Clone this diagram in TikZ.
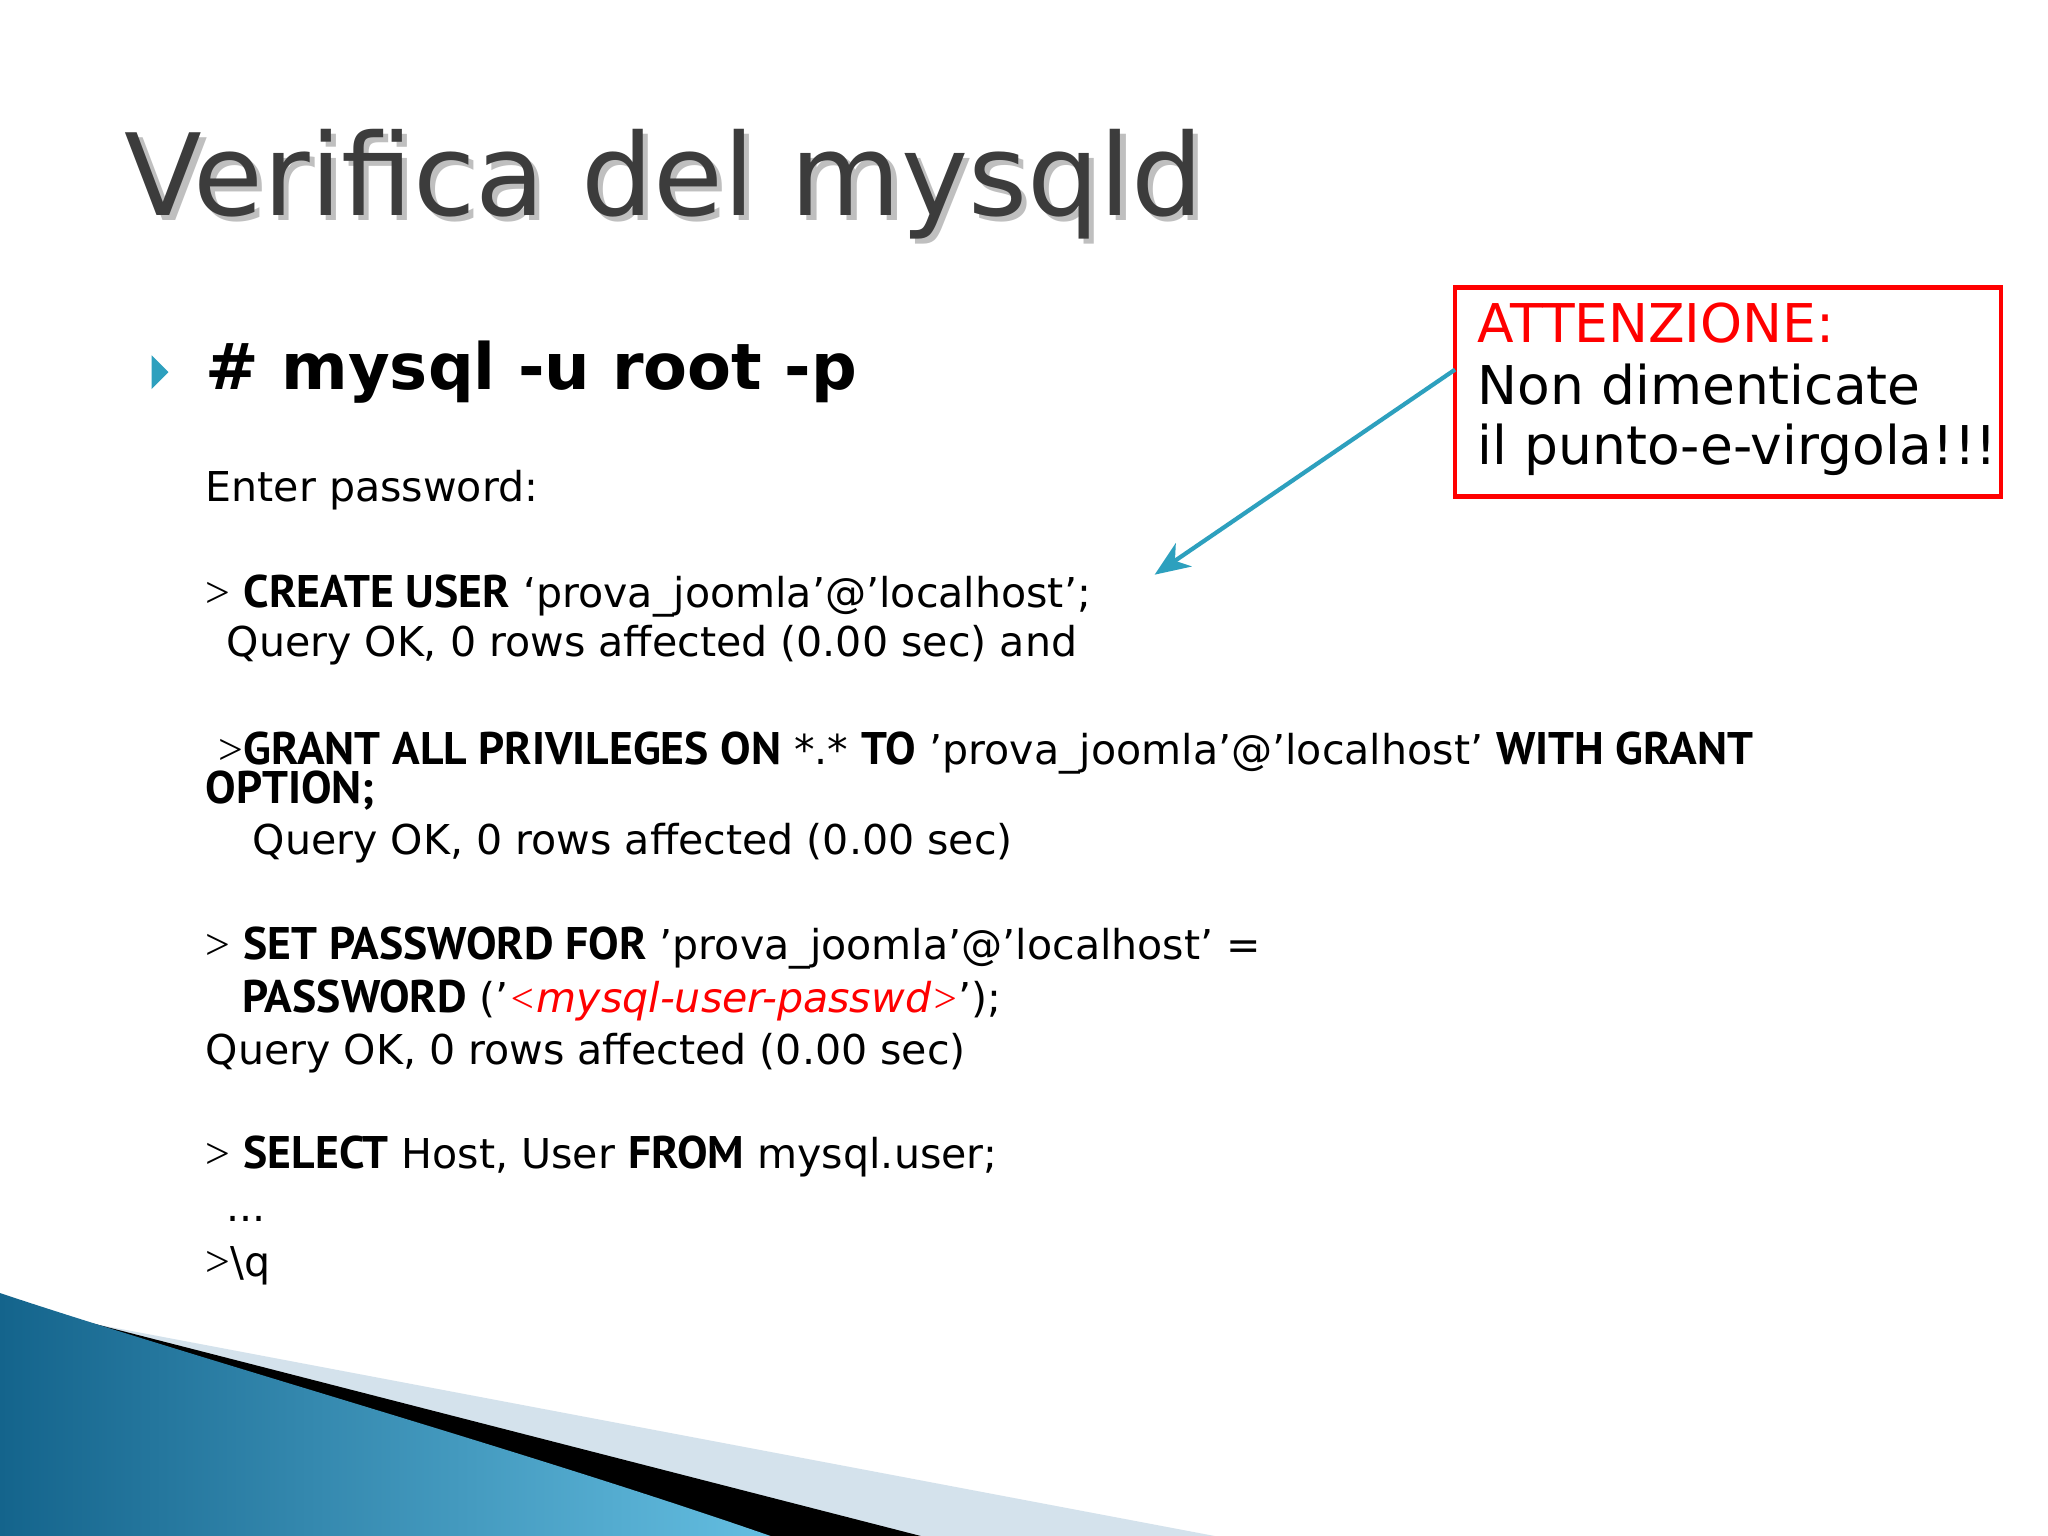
\documentclass[tikz,border=0pt]{standalone}
\usepackage{fontspec}
\usetikzlibrary{arrows.meta}
\setmainfont{DejaVu Sans}
\newfontfamily\bfam{PT Sans}
\newfontfamily\serf{Liberation Serif}
\definecolor{teal1}{RGB}{45,160,190}
\definecolor{light1}{RGB}{212,226,236}
\definecolor{dblue}{RGB}{20,100,140}
\definecolor{lblue}{RGB}{100,190,225}
\definecolor{ttl}{RGB}{60,60,60}
\begin{document}
\begin{tikzpicture}[x=0.013061cm,y=-0.013061cm,
  txt/.style={anchor=base west,inner sep=0pt,font=\fontsize{11.7}{13}\selectfont},
  rtxt/.style={anchor=base west,inner sep=0pt,font=\fontsize{15.2}{18}\selectfont}]
\newcommand{\B}[1]{{\bfam\bfseries\fontsize{13}{13}\selectfont #1}}
\newcommand{\G}{{\serf\fontsize{12.5}{13}\selectfont >}}
\newcommand{\sq}{\char39\relax}
\useasboundingbox[fill=white] (0,0) rectangle (1568,1176);
% bottom decoration
\fill[light1] (0,1000) -- (930,1176) -- (0,1176) -- cycle;
\fill[black] (0,995) -- (705,1176) -- (0,1176) -- cycle;
\shade[left color=dblue,right color=lblue] (0,990) .. controls (150,1040) and (400,1110) .. (590,1176) -- (0,1176) -- cycle;
% title
\node[anchor=base west,inner sep=0pt,text=black!25,font=\fontsize{32.3}{40}\selectfont] (tshadow) at (99,169) {Verifica del mysqld};
\node[anchor=base west,inner sep=0pt,text=ttl,font=\fontsize{32.3}{40}\selectfont] (title) at (95,165) {Verifica del mysqld};
% bullet
\fill[teal1] (116,272) -- (129,285) -- (116,298) -- cycle;
\node[anchor=base west,inner sep=0pt,font=\bfseries\fontsize{18.2}{24}\selectfont] (cmd) at (157,298) {\# mysql -u root -p};
\node[txt] (l1) at (157,384) {Enter password:};
\node[txt] (l2) at (157,465) {\G{} \B{CREATE USER} ‘prova\_joomla\sq@\sq localhost\sq;};
\node[txt] (l3) at (173,503) {Query OK, 0 rows affected (0.00 sec) and};
\node[txt] (l4) at (167,585) {\G\B{GRANT ALL PRIVILEGES ON} *.* \B{TO} \sq prova\_joomla\sq@\sq localhost\sq{} \B{WITH GRANT}};
\node[txt] (l5) at (157,615) {\B{OPTION;}};
\node[txt] (l6) at (193,654) {Query OK, 0 rows affected (0.00 sec)};
\node[txt] (l7) at (157,735) {\G{} \B{SET PASSWORD FOR} \sq prova\_joomla\sq@\sq localhost\sq{} =};
\node[txt] (l8) at (185,775) {\B{PASSWORD} (\sq{\color{red}\itshape\serf<\fontspec{DejaVu Sans}mysql-user-passwd\serf>}\sq);};
\node[txt] (l9) at (157,815) {Query OK, 0 rows affected (0.00 sec)};
\node[txt] (l10) at (157,895) {\G{} \B{SELECT} Host, User \B{FROM} mysql.user;};
\node[txt] (l11) at (173,935) {...};
\node[txt] (l12) at (157,977) {\G\textbackslash q};
% red box
\draw[red,line width=1.3pt] (1114,220) rectangle (1532,380);
\coordinate (boxw) at (1114,283);
\node[rtxt,text=red] (r1) at (1131,262) {ATTENZIONE:};
\node[rtxt] (r2) at (1131,310) {Non dimenticate};
\node[rtxt] (r3) at (1131,356) {il punto-e-virgola!!!};
\coordinate (tip) at (884,440);
\draw[teal1,line width=1.2pt,-{Stealth[length=10pt,width=8pt,inset=3pt]}] (boxw) -- (tip);
\end{tikzpicture}
\end{document}
